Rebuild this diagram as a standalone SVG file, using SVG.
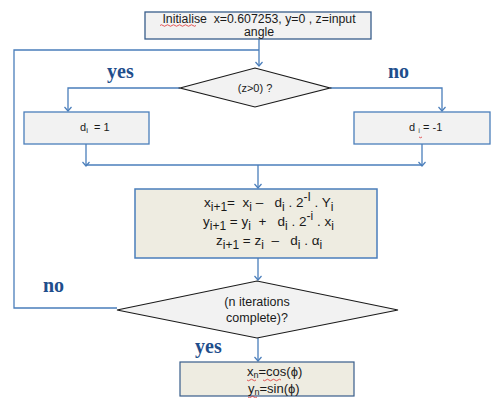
<svg xmlns="http://www.w3.org/2000/svg" width="491" height="398" viewBox="0 0 491 398">
<defs>
<marker id="arr" markerWidth="10" markerHeight="10" refX="5" refY="5" orient="auto" markerUnits="userSpaceOnUse">
<path d="M1,1.5 L5,5 L1,8.5" fill="none" stroke="#4a7ebb" stroke-width="1.2"/>
</marker>
</defs>
<style>
.ln{fill:none;stroke:#4a7ebb;stroke-width:1.3}
.gray{fill:#f2f2f2;stroke:#385d8a;stroke-width:1.3}
.dia{fill:#f2f2f2;stroke:#1a1a1a;stroke-width:1.2}
.beige{fill:#eeece1;stroke:#4a7ebb;stroke-width:1.5}
.t{font-family:"Liberation Sans",Arial,sans-serif;font-size:11px;fill:#1a1a1a}
.f{font-family:"Liberation Sans",Arial,sans-serif;font-size:13.5px;fill:#1a1a1a}
.lab{font-family:"Liberation Serif","Times New Roman",serif;font-weight:bold;font-size:20px;fill:#1f4e8c}
.sq{fill:none;stroke:#e03030;stroke-width:0.8}
</style>
<g id="connectors">
<path class="ln" d="M259,39 V49 M259,49 V66" marker-end="url(#arr)"/>
<path class="ln" d="M180,88 H68 V111" marker-end="url(#arr)"/>
<path class="ln" d="M330,88 H442 V111" marker-end="url(#arr)"/>
<path class="ln" d="M86,144 V166" marker-end="url(#arr)"/>
<path class="ln" d="M422,144 V166" marker-end="url(#arr)"/>
<path class="ln" d="M86,165 H422"/>
<path class="ln" d="M258,165 V188" marker-end="url(#arr)"/>
<path class="ln" d="M258,258 V280" marker-end="url(#arr)"/>
<path class="ln" d="M117,308 H14 V50 H259"/>
<path class="ln" d="M258,338 V361" marker-end="url(#arr)"/>
</g>
<g id="init">
<rect class="gray" x="145" y="12" width="226" height="27"/>
<text class="t" x="259" y="23" text-anchor="middle" style="font-size:12.3px" xml:space="preserve">Initialise  x=0.607253, y=0 , z=input</text>
<text class="t" x="259" y="36" text-anchor="middle" style="font-size:12.3px">angle</text>
<path class="sq" d="M160,25.5 q1.5,-1.5 3,0 t3,0 t3,0 t3,0 t3,0 t3,0 t3,0 t3,0 t3,0 t3,0 t3,0 t3,0"/>
</g>
<g id="decision1">
<polygon class="dia" points="180,88 255,68 330,88 255,107"/>
<text class="t" x="255" y="92" text-anchor="middle">(z&gt;0) ?</text>
</g>
<text class="lab" x="107" y="78">yes</text>
<text class="lab" x="388" y="78">no</text>
<g id="di-pos">
<rect class="gray" x="24" y="112" width="125" height="32" style="stroke:#4a7ebb"/>
<text class="t" x="80" y="131">d<tspan font-size="8" dy="2">i</tspan><tspan dy="-2" xml:space="preserve">  = 1</tspan></text>
</g>
<g id="di-neg">
<rect class="gray" x="354" y="112" width="136" height="32" style="stroke:#4a7ebb"/>
<text class="t" x="409" y="131">d <tspan font-size="8" dy="2" fill="#555">i</tspan><tspan dy="-2"> = -1</tspan></text>
<path class="sq" d="M419,137 q1.5,1.5 3,0"/>
</g>
<g id="update">
<rect class="beige" x="135" y="189" width="242" height="69"/>
<text class="f" x="204" y="207" xml:space="preserve">x<tspan font-size="12" dy="4">i+1</tspan><tspan dy="-4">=  x</tspan><tspan font-size="12" dy="4">i</tspan><tspan dy="-4"> –   d</tspan><tspan font-size="12" dy="4">i</tspan><tspan dy="-4"> . 2</tspan><tspan font-size="12" dy="-6">-I</tspan><tspan dy="6"> . Y</tspan><tspan font-size="12" dy="4">i</tspan></text>
<text class="f" x="203" y="226" xml:space="preserve">y<tspan font-size="12" dy="4">i+1</tspan><tspan dy="-4"> = y</tspan><tspan font-size="12" dy="4">i</tspan><tspan dy="-4">  +   d</tspan><tspan font-size="12" dy="4">i</tspan><tspan dy="-4"> . 2</tspan><tspan font-size="12" dy="-6">-i</tspan><tspan dy="6"> . x</tspan><tspan font-size="12" dy="4">i</tspan></text>
<text class="f" x="216" y="245" xml:space="preserve">z<tspan font-size="12" dy="4">i+1</tspan><tspan dy="-4"> = z</tspan><tspan font-size="12" dy="4">i</tspan><tspan dy="-4">  –   d</tspan><tspan font-size="12" dy="4">i</tspan><tspan dy="-4"> . α</tspan><tspan font-size="12" dy="4">i</tspan></text>
</g>
<g id="decision2">
<polygon class="dia" points="117,310 257,281 398,310 257,338"/>
<text class="t" x="257" y="306" text-anchor="middle" style="font-size:12.5px">(n iterations</text>
<text class="t" x="257" y="322" text-anchor="middle" style="font-size:12.5px">complete)?</text>
</g>
<text class="lab" x="43" y="292">no</text>
<text class="lab" x="195" y="353">yes</text>
<g id="result">
<rect class="beige" x="180" y="362" width="174" height="34" style="stroke:#385d8a;stroke-width:1.2"/>
<text class="t" x="247" y="376" style="font-size:13px">x<tspan font-size="9" dy="2">n</tspan><tspan dy="-2">=cos(ϕ)</tspan></text>
<text class="t" x="248" y="393" style="font-size:13px">y<tspan font-size="9" dy="2">n</tspan><tspan dy="-2">=sin(ϕ)</tspan></text>
<path class="sq" d="M247,380 q1.5,1.5 3,0 t3,0 t3,0 M263,380 q1.5,1.5 3,0 t3,0 t3,0 t3,0 t3,0 t3,0 M248,397 q1.5,1.5 3,0 t3,0 t3,0"/>
</g>
</svg>
